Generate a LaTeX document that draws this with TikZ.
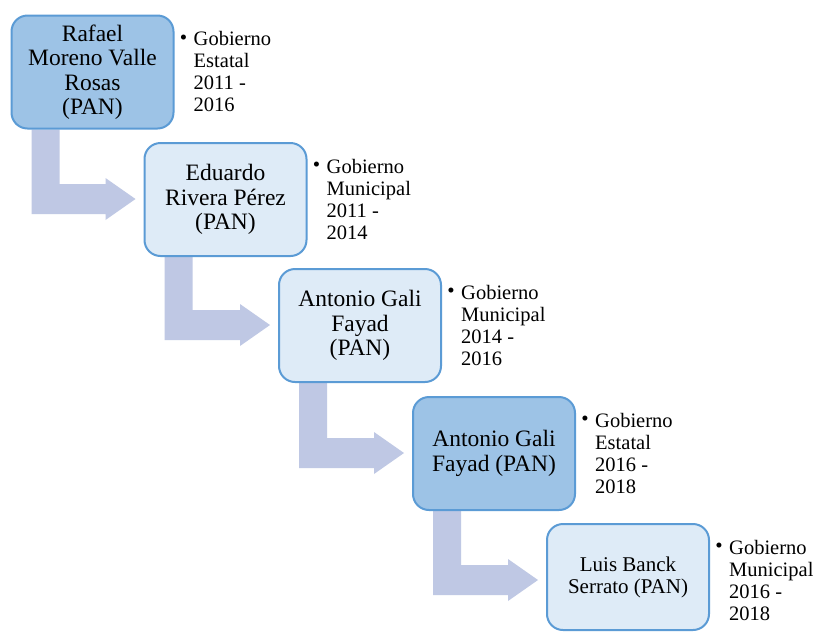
\documentclass[tikz,border=0pt]{standalone}
\usepackage{fontspec}
\setmainfont{Liberation Serif}[Ligatures=TeX]
\newfontfamily\timesf{Liberation Serif}
\usetikzlibrary{calc}
\definecolor{boxline}{HTML}{5B9BD5}
\definecolor{boxdark}{HTML}{9DC3E6}
\definecolor{boxlight}{HTML}{DEEBF7}
\definecolor{arrowcol}{HTML}{BFC8E4}
\newcommand\bentarr[2]{%
  \fill[arrowcol] let \p1=(#1.south west), \p2=(#2.north west) in
    (\x1+21pt,\y1) -- (\x1+49pt,\y1) -- (\x1+49pt,\y2-42pt)
    -- (\x2-38pt,\y2-42pt) -- (\x2-38pt,\y2-36pt) -- (\x2-8pt,\y2-57pt)
    -- (\x2-38pt,\y2-78pt) -- (\x2-38pt,\y2-72pt) -- (\x1+21pt,\y2-72pt) -- cycle;}
\begin{document}
\begin{tikzpicture}[x=1pt,y=-1pt,
  boxstyle/.style={draw=boxline,line width=2pt,rounded corners=16pt,
    minimum width=162pt,minimum height=113pt,align=center,inner sep=0pt,
    font=\timesf\fontsize{23.5}{24.5}\selectfont},
  darkbox/.style={boxstyle,fill=boxdark},
  lightbox/.style={boxstyle,fill=boxlight},
  infotext/.style={anchor=north west,align=left,inner sep=0pt,
    font=\timesf\fontsize{20.5}{22}\selectfont},
  bulletmark/.style={inner sep=0pt,font=\timesf\fontsize{21}{21}\selectfont}]
\useasboundingbox[fill=white] (0,0) rectangle (815,633);
\path (92.5,72) node[boxstyle,draw=none] (b1) {\phantom{x}};
\path (225.5,199.5) node[boxstyle,draw=none] (b2) {\phantom{x}};
\path (360,325.5) node[boxstyle,draw=none] (b3) {\phantom{x}};
\path (494,453.5) node[boxstyle,draw=none] (b4) {\phantom{x}};
\path (628,577) node[boxstyle,draw=none,minimum height=106pt] (b5) {\phantom{x}};
\bentarr{b1}{b2}
\bentarr{b2}{b3}
\bentarr{b3}{b4}
\bentarr{b4}{b5}
\node[darkbox] (n1) at (b1) {Rafael\\Moreno Valle\\Rosas\\(PAN)};
\node[lightbox] (n2) at (b2) {Eduardo\\Rivera Pérez\\(PAN)};
\node[lightbox] (n3) at (b3) {Antonio Gali\\Fayad\\(PAN)};
\node[darkbox] (n4) at (b4) {Antonio Gali\\Fayad (PAN)};
\node[lightbox,minimum height=106pt,font=\timesf\fontsize{21}{22}\selectfont] (n5) at (b5) {Luis Banck\\Serrato (PAN)};
\foreach \b/\t in {n1/{Gobierno\\Estatal\\2011 -\\2016},
                   n2/{Gobierno\\Municipal\\2011 -\\2014},
                   n3/{Gobierno\\Municipal\\2014 -\\2016},
                   n4/{Gobierno\\Estatal\\2016 -\\2018},
                   n5/{Gobierno\\Municipal\\2016 -\\2018}}{
  \node[bulletmark] (\b-bul) at ($(\b.north east)+(9,25)$) {•};
  \node[infotext] (\b-txt) at ($(\b.north east)+(19,17)$) {\t};
}
\end{tikzpicture}
\end{document}
